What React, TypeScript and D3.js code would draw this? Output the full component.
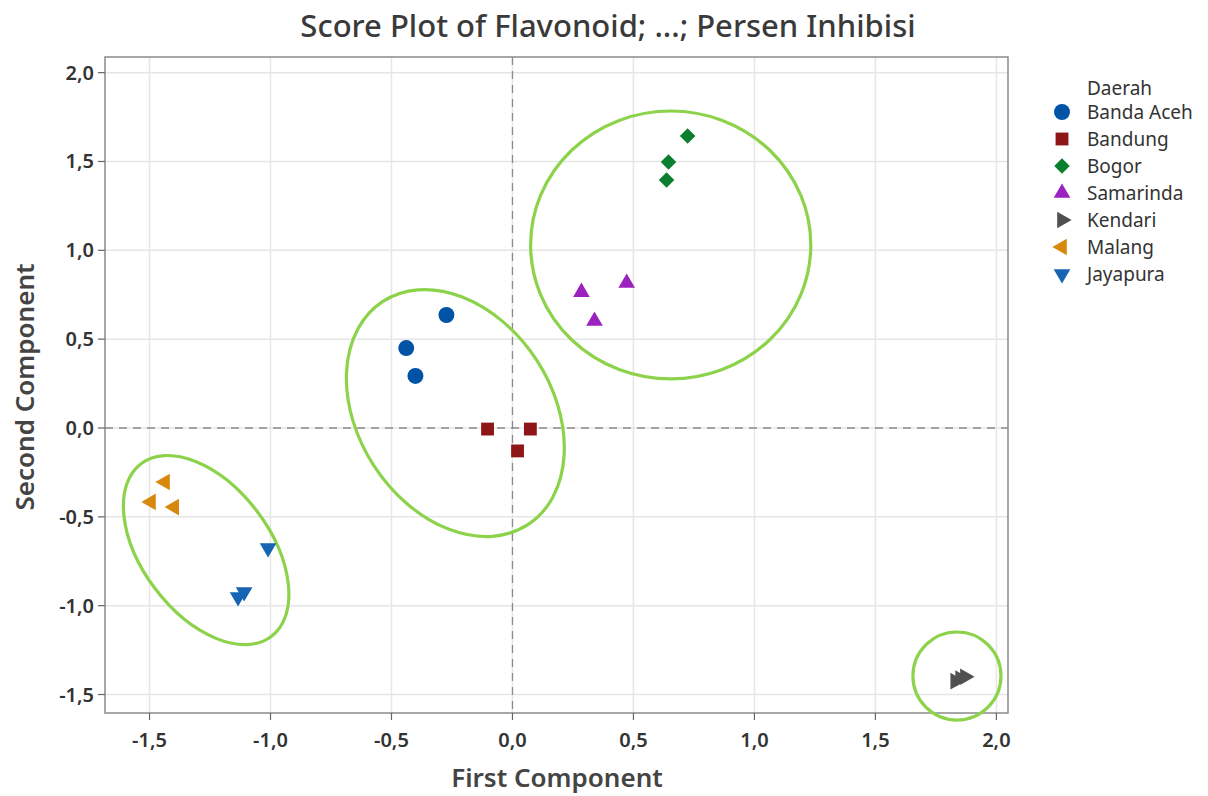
import { useEffect } from "react";
import * as d3 from "d3";

const xTicks = [-1.5, -1.0, -0.5, 0.0, 0.5, 1.0, 1.5, 2.0];
const yTicks = [-1.5, -1.0, -0.5, 0.0, 0.5, 1.0, 1.5, 2.0];

const groups = ["Banda Aceh", "Bandung", "Bogor", "Samarinda", "Kendari", "Malang", "Jayapura"];
const groupColors = ["#0053A5", "#8E1616", "#0A7F2E", "#9B22BE", "#505050", "#D8880C", "#1764B3"];
const groupShapes = ["circle", "square", "diamond", "triUp", "triRight", "triLeft", "triDown"];

const bandaAcehX = [-0.273, -0.439, -0.401];
const bandaAcehY = [0.636, 0.45, 0.293];
const bandungX = [-0.103, 0.074, 0.021];
const bandungY = [-0.006, -0.006, -0.129];
const bogorX = [0.724, 0.645, 0.637];
const bogorY = [1.643, 1.497, 1.396];
const samarindaX = [0.285, 0.472, 0.339];
const samarindaY = [0.765, 0.816, 0.602];
const kendariX = [1.83, 1.85, 1.87];
const kendariY = [-1.425, -1.41, -1.4];
const malangX = [-1.436, -1.494, -1.398];
const malangY = [-0.304, -0.416, -0.445];
const jayapuraX = [-1.01, -1.109, -1.134];
const jayapuraY = [-0.675, -0.923, -0.951];

const seriesX = [bandaAcehX, bandungX, bogorX, samarindaX, kendariX, malangX, jayapuraX];
const seriesY = [bandaAcehY, bandungY, bogorY, samarindaY, kendariY, malangY, jayapuraY];

// cluster ellipses: centre (data), semi-axes (in x units / y units), rotation deg
const ellipseCx = [0.654, -0.236, -1.266, 1.837];
const ellipseCy = [1.03, 0.084, -0.687, -1.396];
const ellipseRx = [0.579, 0.55, 0.447, 0.182];
const ellipseRy = [0.754, 0.546, 0.36, 0.248];
const ellipseAngle = [0, 57, 53, 0];

const W = 1208;
const H = 796;
const plot = { left: 105, right: 1008, top: 57, bottom: 713 };

function symbolPath(shape: string) {
  const sym = d3.symbol();
  if (shape === "circle") return sym.type(d3.symbolCircle).size(200)()!;
  if (shape === "square") return sym.type(d3.symbolSquare).size(165)()!;
  if (shape === "diamond") return sym.type(d3.symbolSquare).size(120)()!;
  return sym.type(d3.symbolTriangle).size(120)()!;
}

function symbolRotate(shape: string) {
  if (shape === "diamond") return 45;
  if (shape === "triRight") return 90;
  if (shape === "triDown") return 180;
  if (shape === "triLeft") return -90;
  return 0;
}

const fmt = (v: number) => v.toFixed(1).replace(".", ",");

export default function App() {
  useEffect(() => {
    document.body.style.margin = "0";
  }, []);

  const x = d3.scaleLinear().domain([-1.684, 2.048]).range([plot.left, plot.right]);
  const y = d3.scaleLinear().domain([-1.604, 2.088]).range([plot.bottom, plot.top]);
  const pxPerX = x(1) - x(0);
  const pxPerY = y(0) - y(1);

  const font = "'Noto Sans', 'Open Sans', sans-serif";
  const textColor = "#333";

  return (
    <svg width={W} height={H} style={{ display: "block", background: "#fff" }} fontFamily={font}>
      <text x={608} y={37} textAnchor="middle" fontSize={31} fontWeight={500} fill="#3a3a3a">
        Score Plot of Flavonoid; ...; Persen Inhibisi
      </text>

      {/* grid */}
      {xTicks.map((t) => (
        <line key={"gx" + t} x1={x(t)} x2={x(t)} y1={plot.top} y2={plot.bottom} stroke="#e6e6e6" strokeWidth={1.5} />
      ))}
      {yTicks.map((t) => (
        <line key={"gy" + t} x1={plot.left} x2={plot.right} y1={y(t)} y2={y(t)} stroke="#e6e6e6" strokeWidth={1.5} />
      ))}

      {/* reference lines */}
      <line x1={x(0)} x2={x(0)} y1={plot.top} y2={plot.bottom} stroke="#8c8c8c" strokeWidth={1.3} strokeDasharray="8,6" />
      <line x1={plot.left} x2={plot.right} y1={y(0)} y2={y(0)} stroke="#8c8c8c" strokeWidth={1.3} strokeDasharray="8,6" />

      {/* frame */}
      <rect x={plot.left} y={plot.top} width={plot.right - plot.left} height={plot.bottom - plot.top} fill="none" stroke="#8a8a8a" strokeWidth={1.5} />

      {/* ticks */}
      {xTicks.map((t) => (
        <g key={"tx" + t}>
          <line x1={x(t)} x2={x(t)} y1={plot.bottom} y2={plot.bottom + 7} stroke="#666" strokeWidth={1.2} />
          <text x={x(t)} y={plot.bottom + 34} textAnchor="middle" fontSize={20} fontWeight={600} fill={textColor}>
            {fmt(t)}
          </text>
        </g>
      ))}
      {yTicks.map((t) => (
        <g key={"ty" + t}>
          <line x1={plot.left - 7} x2={plot.left} y1={y(t)} y2={y(t)} stroke="#666" strokeWidth={1.2} />
          <text x={plot.left - 11} y={y(t) + 7} textAnchor="end" fontSize={20} fontWeight={600} fill={textColor}>
            {fmt(t)}
          </text>
        </g>
      ))}

      <text x={557} y={787} textAnchor="middle" fontSize={26} fontWeight={600} fill="#444">
        First Component
      </text>
      <text transform={`translate(34,387) rotate(-90)`} textAnchor="middle" fontSize={26} fontWeight={600} fill="#444">
        Second Component
      </text>

      {/* ellipses */}
      {ellipseCx.map((cx, i) => (
        <ellipse
          key={"el" + i}
          cx={0}
          cy={0}
          rx={ellipseRx[i] * pxPerX}
          ry={ellipseRy[i] * pxPerY}
          transform={`translate(${x(cx)},${y(ellipseCy[i])}) rotate(${ellipseAngle[i]})`}
          fill="none"
          stroke="#8CD34B"
          strokeWidth={3.2}
        />
      ))}

      {/* points */}
      {groups.map((g, gi) =>
        seriesX[gi].map((vx, pi) => (
          <path
            key={g + pi}
            d={symbolPath(groupShapes[gi])}
            transform={`translate(${x(vx)},${y(seriesY[gi][pi])}) rotate(${symbolRotate(groupShapes[gi])})`}
            fill={groupColors[gi]}
          />
        ))
      )}

      {/* legend */}
      <text x={1087} y={95} fontSize={19} fill={textColor}>
        Daerah
      </text>
      {groups.map((g, i) => (
        <g key={"lg" + g} transform={`translate(0,${112 + i * 27})`}>
          <path d={symbolPath(groupShapes[i])} transform={`translate(1062,0) rotate(${symbolRotate(groupShapes[i])})`} fill={groupColors[i]} />
          <text x={1087} y={7} fontSize={19} fill={textColor}>
            {g}
          </text>
        </g>
      ))}
    </svg>
  );
}
